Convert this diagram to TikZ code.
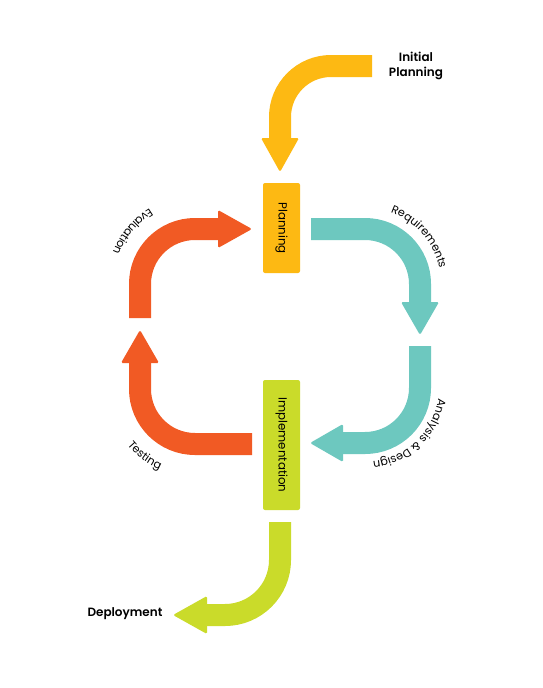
\documentclass[tikz,border=0pt]{standalone}
\usepackage{fontspec}
\setmainfont{Poppins}
\newfontfamily\titlefont{Poppins SemiBold}
\usetikzlibrary{decorations.text,calc}
\definecolor{cyellow}{HTML}{FDB913}
\definecolor{cteal}{HTML}{6DC8BF}
\definecolor{corange}{HTML}{F15A24}
\definecolor{clime}{HTML}{CADB2A}
\newcommand\arcfont{\fontsize{11.2}{12}\selectfont}
\tikzset{
  band/.style={line width=22pt, line cap=butt},
  head/.style={rounded corners=1.5pt},
  stage/.style={rounded corners=2pt, inner sep=0pt, rotate=-90, minimum height=37pt,
    font=\fontsize{11.8}{12}\selectfont},
  arclabel/.style={decorate, decoration={text along path, text align=center, text={|\arcfont|#1}}},
  title/.style={font=\titlefont\fontsize{12}{15.5}\selectfont, align=center}
}
\begin{document}
\begin{tikzpicture}[x=1pt,y=1pt]
\useasboundingbox (0,0) rectangle (542,-688);
\fill[white] (0,0) rectangle (542,-688);

% stage boxes
\node[stage, fill=cyellow, minimum width=90pt] (planning) at (281.5,-228) {Planning};
\node[stage, fill=clime, minimum width=130pt] (impl) at (281.5,-445) {Implementation};

% titles
\node[title] (initial) at (416,-66) {Initial\\Planning};
\node[title, anchor=east] (deploy) at (166,-614) {Deployment};

% --- Initial planning arrow (yellow)
\coordinate (ya) at (372,-66);
\coordinate (yb) at (280,-138);
\coordinate (yt) at (280,-172);
\draw[band, cyellow] (ya) -- (331,-66) arc[start angle=90, end angle=180, radius=51] -- ($(yb)+(0,-1)$);
\fill[head, cyellow] ($(yb)+(-19,0)$) -- ($(yb)+(19,0)$) -- (yt) -- cycle;

% --- Requirements arrow (teal)
\coordinate (ra) at (311,-229);
\coordinate (rc) at (365,-284);
\coordinate (rb) at (420,-302);
\coordinate (rt) at (420,-335);
\draw[band, cteal] (ra) -- (365,-229) arc[start angle=90, end angle=0, radius=55] -- ($(rb)+(0,-1)$);
\fill[head, cteal] ($(rb)+(-19,0)$) -- ($(rb)+(19,0)$) -- (rt) -- cycle;
\path[arclabel={Requirements}] (rc) ++(86:76) arc[start angle=86, end angle=-4, radius=76];

% --- Analysis & Design arrow (teal)
\coordinate (aa) at (420,-346);
\coordinate (ac) at (365,-388);
\coordinate (ab) at (343,-443);
\coordinate (at) at (310,-443);
\draw[band, cteal] (aa) -- (420,-388) arc[start angle=0, end angle=-90, radius=55] -- ($(ab)+(-1,0)$);
\fill[head, cteal] ($(ab)+(0,19)$) -- ($(ab)+(0,-19)$) -- (at) -- cycle;
\path[arclabel={Analysis {\&} Design}] (ac) ++(8:74) arc[start angle=8, end angle=-100, radius=74];

% --- Testing arrow (orange)
\coordinate (ta) at (252,-444);
\coordinate (tc) at (195,-389);
\coordinate (tb) at (140,-363);
\coordinate (tt) at (140,-330);
\draw[band, corange] (ta) -- (195,-444) arc[start angle=270, end angle=180, radius=55] -- ($(tb)+(0,1)$);
\fill[head, corange] ($(tb)+(-19,0)$) -- ($(tb)+(19,0)$) -- (tt) -- cycle;
\path[arclabel={Testing}] (tc) ++(198:88) arc[start angle=198, end angle=268, radius=88];

% --- Evaluation arrow (orange)
\coordinate (ea) at (140,-318);
\coordinate (ec) at (195,-284);
\coordinate (eb) at (218,-229);
\coordinate (et) at (252,-229);
\draw[band, corange] (ea) -- (140,-284) arc[start angle=180, end angle=90, radius=55] -- ($(eb)+(1,0)$);
\fill[head, corange] ($(eb)+(0,19)$) -- ($(eb)+(0,-19)$) -- (et) -- cycle;
\path[arclabel={Evaluation}] (ec) ++(92:88) arc[start angle=92, end angle=188, radius=88];

% --- Deployment arrow (lime)
\coordinate (da) at (280,-522);
\coordinate (dc) at (225,-560);
\coordinate (db) at (207,-615);
\coordinate (dt) at (173,-615);
\draw[band, clime] (da) -- (280,-560) arc[start angle=0, end angle=-90, radius=55] -- ($(db)+(-1,0)$);
\fill[head, clime] ($(db)+(0,19)$) -- ($(db)+(0,-19)$) -- (dt) -- cycle;
\end{tikzpicture}
\end{document}
